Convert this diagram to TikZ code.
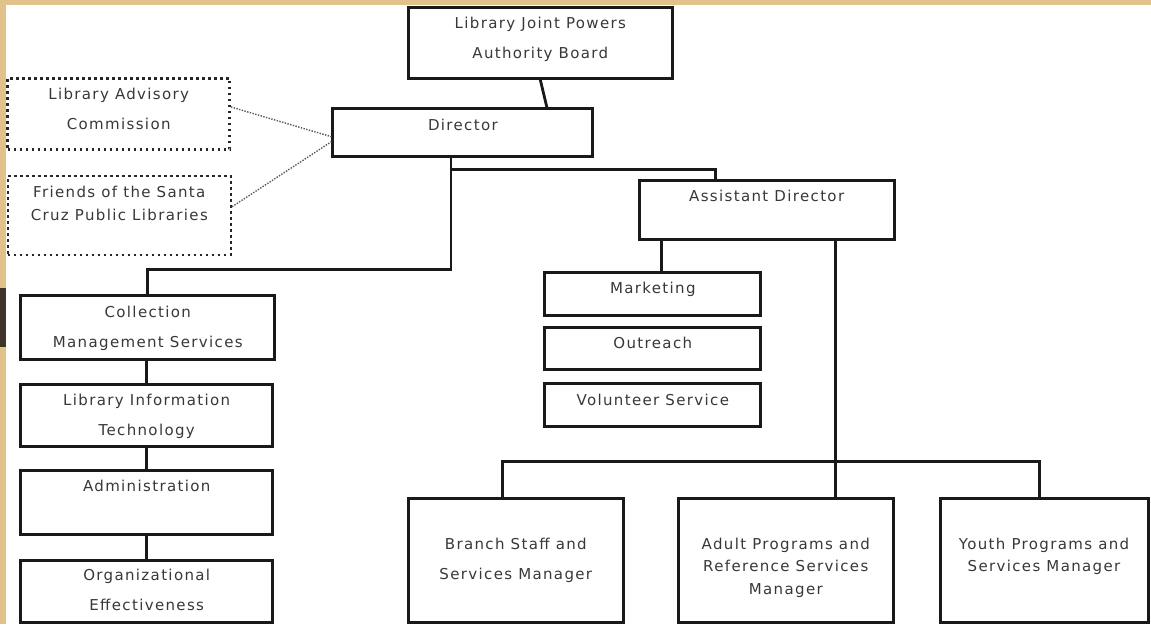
\documentclass[tikz,border=0pt]{standalone}
\usepackage{fontspec}
\setmainfont{DejaVu Sans}[LetterSpace=9]
\usetikzlibrary{positioning}
\definecolor{frametan}{RGB}{226,194,136}
\definecolor{framedark}{RGB}{62,52,42}

\begin{document}
\begin{tikzpicture}[x=1pt,y=-1pt,
        box/.style={draw=black!90, line width=3pt, minimum width=#1, inner sep=0pt},
        dotbox/.style={draw=black!85, line width=2.6pt, dash pattern=on 2.6pt off 3.4pt, minimum width=#1, inner sep=0pt},
        txt/.style={inner sep=0pt, align=center, text=black!78, font=\fontsize{15}{30}\selectfont},
        tight/.style={txt, font=\fontsize{15}{22.5}\selectfont},
        link/.style={draw=black!90, line width=2.8pt},
        hint/.style={draw=black!65, line width=1.4pt, dash pattern=on 1.4pt off 1.4pt}]
    % page and frame
    \useasboundingbox (0,0) rectangle (1151,624);
    \fill[white] (0,0) rectangle (1151,624);
    \fill[frametan] (0,0) rectangle (1151,5);
    \fill[frametan] (0,0) rectangle (6,624);
    \fill[framedark] (0,288) rectangle (6,347);

    % top of the chart
    \node[box=264, minimum height=71] (board) at (540.3,42.8) {};
    \node[txt, below=11.5pt of board.north] (boardT) {Library Joint Powers\\Authority Board};
    \node[box=260, minimum height=48] (dir) at (462.9,132.9) {};
    \node[txt, below=12pt of dir.north] (dirT) {Director};
    \node[dotbox=222, minimum height=71] (adv) at (118.7,113.7) {};
    \node[txt, below=11pt of adv.north] (advT) {Library Advisory\\Commission};
    \node[dotbox=223, minimum height=79] (frd) at (119.3,215.5) {};
    \node[tight, below=11.5pt of frd.north] (frdT) {Friends of the Santa\\Cruz Public Libraries};
    \node[box=255, minimum height=59] (asst) at (766.7,209.7) {};
    \node[txt, below=11pt of asst.north] (asstT) {Assistant Director};

    % assistant director's services
    \node[box=216, minimum height=43] (mkt) at (652.8,294.2) {};
    \node[txt, below=11pt of mkt.north] (mktT) {Marketing};
    \node[box=216, minimum height=42] (outr) at (652.8,348.3) {};
    \node[txt, below=11pt of outr.north] (outrT) {Outreach};
    \node[box=216, minimum height=43] (vol) at (652.8,405.3) {};
    \node[txt, below=11.5pt of vol.north] (volT) {Volunteer Service};

    % left column
    \node[box=254, minimum height=64] (coll) at (147.8,327) {};
    \node[txt, below=12pt of coll.north] (collT) {Collection\\Management Services};
    \node[box=252, minimum height=62] (lit) at (146.7,415.3) {};
    \node[txt, below=11pt of lit.north] (litT) {Library Information\\Technology};
    \node[box=252, minimum height=64] (adm) at (146.7,502.8) {};
    \node[txt, below=11pt of adm.north] (admT) {Administration};
    \node[box=252, minimum height=62] (org) at (146.7,591) {};
    \node[txt, below=10.5pt of org.north] (orgT) {Organizational\\Effectiveness};

    % managers
    \node[box=215, minimum height=124] (brn) at (515.8,560) {};
    \node[txt, below=41pt of brn.north] (brnT) {Branch Staff and\\Services Manager};
    \node[box=215, minimum height=124] (adu) at (785.8,560) {};
    \node[tight, below=41pt of adu.north] (aduT) {Adult Programs and\\Reference Services\\Manager};
    \node[box=208, minimum height=124] (yth) at (1044,560) {};
    \node[tight, below=41pt of yth.north] (ythT) {Youth Programs and\\Services Manager};

    % connectors
    \draw[link] (board.south) -- ([xshift=84pt]dir.north);
    \draw[hint] ([yshift=6.7pt]adv.east) -- ([yshift=-3.8pt]dir.west);
    \draw[hint] ([yshift=8.8pt]frd.east) -- ([yshift=-8.8pt]dir.west);
    \coordinate (dstem) at (451,169.3);
    \draw[link] ([xshift=-12pt]dir.south) -- ++(0,111.3) -| (coll.north);
    \draw[link] (dstem) -| ([xshift=-51pt]asst.north);
    \draw[link] ([xshift=8.5pt]mkt.north) -- ([xshift=8.5pt]mkt.north |- asst.south);
    \draw[link] ([xshift=50pt]adu.north) -- ([xshift=50pt]adu.north |- asst.south);
    \draw[link] ([xshift=-13.5pt]brn.north) -- ++(0,-35.3) -| ([xshift=-4.7pt]yth.north);
    \draw[link] (lit.north |- coll.south) -- (lit.north);
    \draw[link] (adm.north |- lit.south) -- (adm.north);
    \draw[link] (org.north |- adm.south) -- (org.north);
\end{tikzpicture}
\end{document}
